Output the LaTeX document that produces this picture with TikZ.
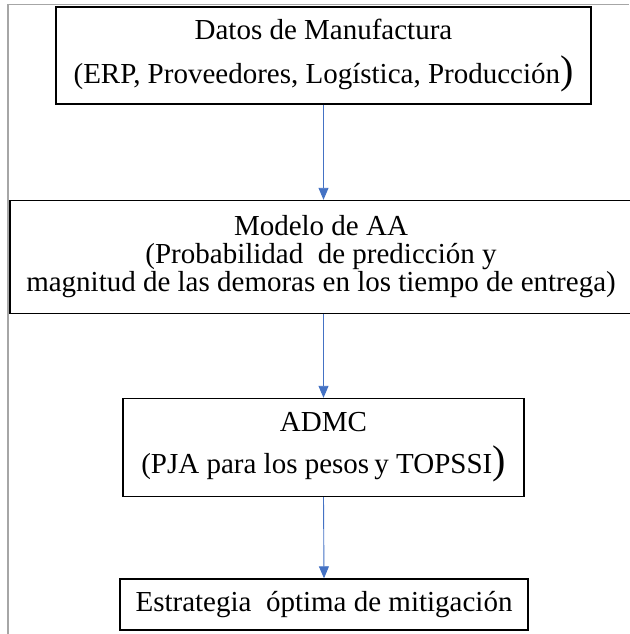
\documentclass[tikz,border=0pt]{standalone}
\usepackage{fontspec}
\setmainfont{Liberation Serif}
\usetikzlibrary{arrows.meta}
\definecolor{flechaazul}{HTML}{4472C4}
\newcommand{\parbig}{{\fontsize{40}{30}\selectfont )}}

\begin{document}
\begin{tikzpicture}[x=1pt, y=-1pt,
  caja/.style={draw, line width=1.4pt, align=center, inner sep=0pt, font=\fontsize{29}{28}\selectfont},
  flecha/.style={draw=flechaazul, line width=0.9pt, -{Triangle[width=10pt,length=12pt]}}]
% \draw (0,0) grid (629,634);
\useasboundingbox (0,0) rectangle (629,634);
\draw[gray!70, line width=1.3pt] (8,634) -- (8,4.5) -- (629,4.5);
\node[caja, minimum width=535, minimum height=97] (datos) at (323.5,55.5) {Datos de Manufactura\\[15pt](ERP, Proveedores, Logística, Producción\parbig};
\node[caja, minimum width=622, minimum height=113] (modelo) at (321,257) {Modelo de AA\\(Probabilidad~ de predicción y\\magnitud de las demoras en los tiempo de entrega)};
\node[caja, minimum width=401, minimum height=98] (admc) at (323.5,447.5) {ADMC\\[13pt](PJA para los pesos\hspace{-2pt} y TOPSSI\parbig};
\node[caja, minimum width=408, minimum height=51] (estrategia) at (324,604.5) {Estrategia~ óptima de mitigación};
\draw[flecha] (datos.south) -- (datos.south |- modelo.north);
\draw[flecha] (modelo.south -| datos.south) -- (datos.south |- admc.north);
\draw[flecha] (admc.south) -- (estrategia.north);
\end{tikzpicture}
\end{document}
